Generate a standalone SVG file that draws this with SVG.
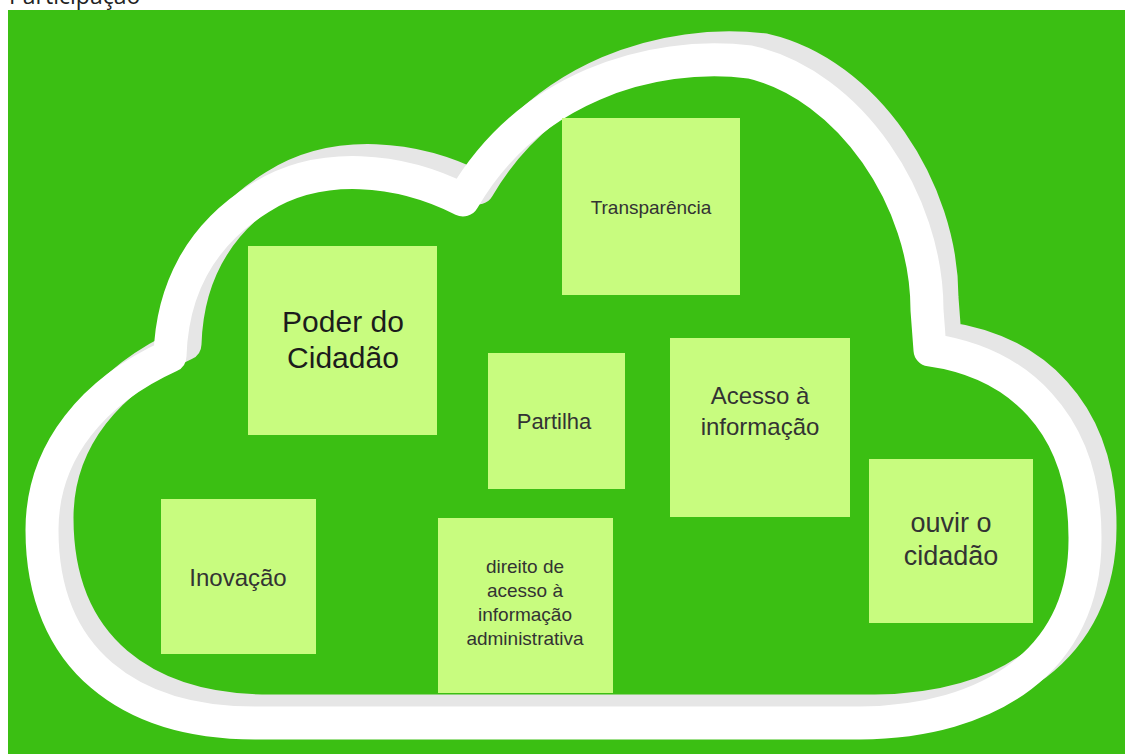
<svg xmlns="http://www.w3.org/2000/svg" width="1125" height="754" viewBox="0 0 1125 754">
  <defs>
    <path id="cloudPath" d="M 255,723 L 860,723 C 990,722 1085,660 1085,540 C 1086,420 1015,362 930,350 L 927,310 C 927,200 850,85 750,62 C 650,50 528,88 463,200 C 400,168 320,160 260,198 C 200,235 172,290 170,356 C 95,390 42,450 42,530 C 42,660 130,723 255,723 Z"/>
  </defs>
  <style>
    .title { font-family: "Open Sans", "Liberation Sans", sans-serif; font-size: 23px; fill: #222; }
    .note rect { fill: #c8fc7f; }
    .note text { font-family: "Liberation Sans", Arial, sans-serif; fill: #333; text-anchor: middle; }
    .cloud { fill: none; stroke-width: 33; stroke-linejoin: round; stroke-linecap: round; }
  </style>
  <rect x="0" y="0" width="1125" height="754" fill="#ffffff"/>
  <text class="title" x="9" y="4">Participação</text>
  <rect x="8" y="10" width="1117" height="744" fill="#3bbf13"/>

  <g id="cloud">
    <use href="#cloudPath" class="cloud" stroke="#e6e6e6" transform="translate(15,-12)"/>
    <use href="#cloudPath" class="cloud" stroke="#ffffff"/>
  </g>

  <g id="connectors"></g>

  <g id="note-transparencia" class="note">
    <rect x="562" y="118" width="178" height="177"/>
    <text x="651" y="214" font-size="19">Transparência</text>
  </g>
  <g id="note-poder" class="note">
    <rect x="248" y="246" width="189" height="189"/>
    <text x="343" y="332" font-size="30" style="fill:#1c1c1c">Poder do</text>
    <text x="343" y="368" font-size="30" style="fill:#1c1c1c">Cidadão</text>
  </g>
  <g id="note-partilha" class="note">
    <rect x="488" y="353" width="137" height="136"/>
    <text x="554" y="429" font-size="22">Partilha</text>
  </g>
  <g id="note-acesso" class="note">
    <rect x="670" y="338" width="180" height="179"/>
    <text x="760" y="404" font-size="24">Acesso à</text>
    <text x="760" y="435" font-size="24">informação</text>
  </g>
  <g id="note-inovacao" class="note">
    <rect x="161" y="499" width="155" height="155"/>
    <text x="238" y="586" font-size="24">Inovação</text>
  </g>
  <g id="note-direito" class="note">
    <rect x="438" y="518" width="175" height="175"/>
    <text x="525" y="573" font-size="19">direito de</text>
    <text x="525" y="597" font-size="19">acesso à</text>
    <text x="525" y="621" font-size="19">informação</text>
    <text x="525" y="645" font-size="19">administrativa</text>
  </g>
  <g id="note-ouvir" class="note">
    <rect x="869" y="459" width="164" height="164"/>
    <text x="951" y="532" font-size="27">ouvir o</text>
    <text x="951" y="565" font-size="27">cidadão</text>
  </g>
</svg>
